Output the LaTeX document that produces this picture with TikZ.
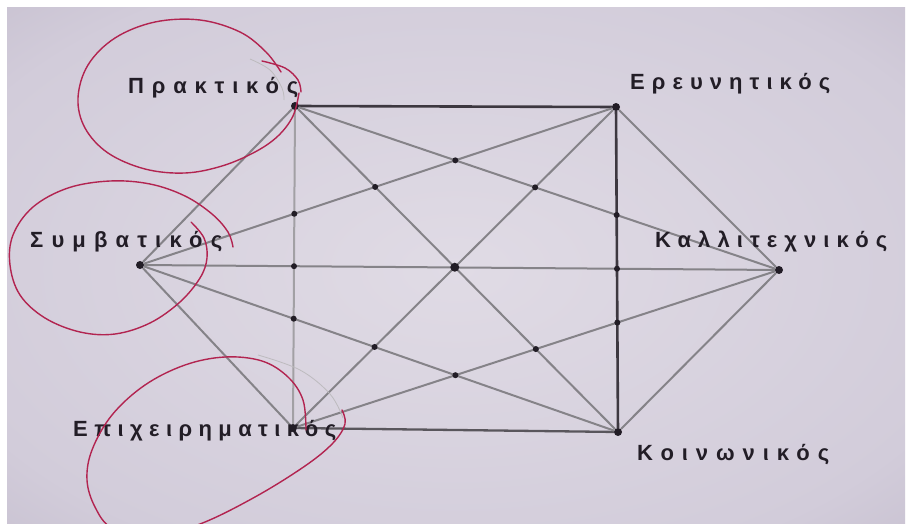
\documentclass[tikz,border=0pt]{standalone}
\usepackage{fontspec}
\setmainfont{Liberation Sans}
\usetikzlibrary{intersections}
\definecolor{pc}{RGB}{224,219,229}
\definecolor{pm}{RGB}{210,204,218}
\definecolor{pe}{RGB}{150,140,163}
\definecolor{ink}{RGB}{34,29,38}
\definecolor{redpen}{RGB}{178,36,80}
\pgfdeclareradialshading{paper}{\pgfpoint{0bp}{0bp}}{color(0bp)=(pc); color(30bp)=(pm); color(75bp)=(pe)}
\newsavebox\lblbox
\newcommand\spaced[3]{\sbox\lblbox{#3}\edef\lsval{\fpeval{round(100*((#1)-\the\wd\lblbox)/((#2)-1)/22,2)}}\addfontfeature{LetterSpace=\lsval}#3}
\tikzset{
  vdot/.style={circle, fill=ink, inner sep=0pt, minimum size=8pt},
  lbl/.style={anchor=base west, inner sep=0pt, text=ink, font=\bfseries\fontsize{22}{24}\selectfont},
  edgedark/.style={draw=ink!88, line width=2.6pt},
  edgebot/.style={draw=ink!75, line width=2.3pt},
  edgemid/.style={draw=ink!55, line width=2pt},
  edgelight/.style={draw=ink!42, line width=2pt},
  pen/.style={draw=redpen, line width=1.4pt, line cap=round},
  pencil/.style={draw=ink!30, line width=0.8pt},
  xdot/.style={fill=ink}
}
\begin{document}
\begin{tikzpicture}[x=1pt,y=-1pt]
\useasboundingbox (0,0) rectangle (908,524);
\clip (0,0) rectangle (908,524);
\fill[white] (0,0) rectangle (908,524);
\shade[shading=paper] (7,8) rectangle (905,530);

% vertices
\node[vdot] (P) at (295,106) {};
\node[vdot] (E) at (616,107) {};
\node[vdot] (S) at (140,265) {};
\node[vdot] (K) at (779,270) {};
\node[vdot] (Ep) at (293,428) {};
\node[vdot] (Ko) at (618,432) {};

% edges
\draw[edgedark, name path=PE] (P) -- (E);
\draw[edgedark, name path=EKo] (E) -- (Ko);
\draw[edgebot, name path=EpKo] (Ep) -- (Ko);
\draw[edgelight, name path=PEp] (P) -- (Ep);
\draw[edgemid, name path=PS] (P) -- (S);
\draw[edgemid, name path=PK] (P) -- (K);
\draw[edgemid, name path=PKo] (P) -- (Ko);
\draw[edgemid, name path=SE] (S) -- (E);
\draw[edgemid, name path=EK] (E) -- (K);
\draw[edgemid, name path=EEp] (E) -- (Ep);
\draw[edgemid, name path=SK] (S) -- (K);
\draw[edgemid, name path=SEp] (S) -- (Ep);
\draw[edgemid, name path=SKo] (S) -- (Ko);
\draw[edgemid, name path=EpK] (Ep) -- (K);
\draw[edgemid, name path=KKo] (K) -- (Ko);

% crossing dots
\fill[xdot, name intersections={of=SE and PEp}] (intersection-1) circle[radius=3pt];
\fill[xdot, name intersections={of=SK and PEp}] (intersection-1) circle[radius=3pt];
\fill[xdot, name intersections={of=SKo and PEp}] (intersection-1) circle[radius=3pt];
\fill[xdot, name intersections={of=PK and EKo}] (intersection-1) circle[radius=3pt];
\fill[xdot, name intersections={of=SK and EKo}] (intersection-1) circle[radius=3pt];
\fill[xdot, name intersections={of=EpK and EKo}] (intersection-1) circle[radius=3pt];
\fill[xdot, name intersections={of=SE and PKo}] (intersection-1) circle[radius=3pt];
\fill[xdot, name intersections={of=PK and EEp}] (intersection-1) circle[radius=3pt];
\fill[xdot, name intersections={of=SKo and EEp}] (intersection-1) circle[radius=3pt];
\fill[xdot, name intersections={of=EpK and PKo}] (intersection-1) circle[radius=3pt];
\fill[xdot, name intersections={of=SE and PK}] (intersection-1) circle[radius=3pt];
\fill[xdot, name intersections={of=SKo and EpK}] (intersection-1) circle[radius=3pt];
\fill[xdot, name intersections={of=PKo and EEp}] (intersection-1) circle[radius=4.5pt];

% labels
\node[lbl] (tP) at (128,94) {\spaced{170}{9}{Πρακτικός}};
\node[lbl] (tE) at (630,90) {\spaced{200}{11}{Ερευνητικός}};
\node[lbl] (tS) at (30,247) {\spaced{192}{10}{Συμβατικός}};
\node[lbl] (tK) at (655,247) {\spaced{232}{13}{Καλλιτεχνικός}};
\node[lbl] (tEp) at (73,436) {\spaced{263}{15}{Επιχειρηματικός}};
\node[lbl] (tKo) at (637,460) {\spaced{192}{10}{Κοινωνικός}};

% red pen loops
\draw[pen] plot[smooth, tension=0.6] coordinates {(299,93) (293,116) (278,136) (255,152) (222,166) (185,173) (145,169) (108,153) (85,128) (78,98) (88,65) (115,38) (155,22) (200,20) (240,32) (266,52) (281,72)};
\draw[pen] plot[smooth, tension=0.6] coordinates {(262,61) (285,68) (298,80) (301,92)};
\draw[pencil] plot[smooth, tension=0.6] coordinates {(250,59) (270,70) (282,88) (284,100)};

\draw[pen] plot[smooth, tension=0.6] coordinates {(233,247) (228,232) (212,214) (185,196) (150,184) (110,181) (68,188) (33,207) (13,235) (10,265) (20,295) (45,318) (80,332) (115,334) (150,323) (180,302) (200,278) (207,258) (204,238) (191,222)};

\draw[pen] plot[smooth, tension=0.6] coordinates {(306,430) (303,400) (288,377) (262,361) (225,357) (185,365) (145,385) (112,415) (92,450) (87,480) (95,507) (112,528) (150,537) (200,524) (255,497) (305,466) (333,443) (345,424) (342,410)};
\draw[pencil] plot[smooth, tension=0.6] coordinates {(258,355) (300,370) (330,394) (343,418)};
\end{tikzpicture}
\end{document}
